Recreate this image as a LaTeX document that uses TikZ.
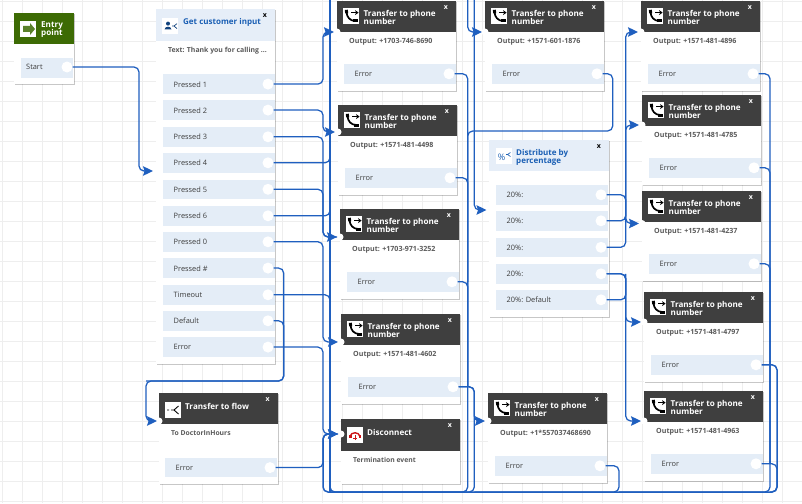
\documentclass[tikz,border=0pt]{standalone}
\usepackage{fontspec}
\setmainfont{Open Sans}
\usetikzlibrary{arrows.meta,shadows}
\definecolor{gridc}{HTML}{EEEEEE}
\definecolor{wirec}{HTML}{1F5FBF}
\definecolor{darkc}{HTML}{3F3F3F}
\definecolor{greenc}{HTML}{3D6B04}
\definecolor{rowc}{HTML}{E4EDF7}
\definecolor{headc}{HTML}{E6EEF8}
\definecolor{bluet}{HTML}{1A5FB4}
\definecolor{txtc}{HTML}{3C3C3C}
\definecolor{outc}{HTML}{5A5A5A}
\definecolor{redc}{HTML}{CC1418}
\tikzset{
  x=1pt,y=-1pt,
  box/.style={anchor=north west,inner sep=0pt,outer sep=0pt,minimum width=#1},
  softshadow/.style={drop shadow={shadow xshift=.6pt,shadow yshift=-1pt,opacity=.22,fill=black}},
  cardbody/.style={box=119pt,fill=white,softshadow},
  darkhead/.style={box=119pt,minimum height=31pt,fill=darkc},
  lighthead/.style={box=119pt,minimum height=32pt,fill=headc},
  rowbox/.style={box=#1,minimum height=19.6pt,fill=rowc},
  portc/.style={circle,fill=white,inner sep=0pt,minimum size=11pt},
  notchc/.style={circle,fill=white,inner sep=0pt,minimum size=7pt},
  iconsq/.style={box=16pt,minimum height=16pt,fill=white},
  titlet/.style={anchor=west,inner sep=0pt,align=left,text=white,font=\fontsize{8.1}{8.1}\selectfont\bfseries},
  bluetitle/.style={anchor=west,inner sep=0pt,align=left,text=bluet,font=\fontsize{8}{8.1}\selectfont\bfseries},
  closex/.style={inner sep=0pt,font=\fontsize{7}{7}\selectfont\bfseries},
  rowt/.style={anchor=west,inner sep=0pt,text=txtc,font=\fontsize{7.4}{8}\selectfont},
  outt/.style={anchor=west,inner sep=0pt,text=outc,font=\fontsize{7.1}{8}\selectfont\bfseries},
  wire/.style={draw=wirec,line width=1.25pt,rounded corners=5pt},
  tip/.style={-{Stealth[length=10pt,width=9.5pt,inset=1.5pt]}},
}
\newcommand\cardrow[4]{%
  \node[rowbox=111.5pt] (#1-row) at (#2,#3) {};
  \node[rowt] (#1-lab) at (#2+10.5,#3+10) {#4};
  \node[portc] (#1) at (#2+105,#3+9.8) {};
}
\newcommand\handset{%
  \draw[black,line width=1.7pt] (3.6,4) .. controls (3.6,9) and (7,13) .. (12.4,13);
  \draw[black,line width=3pt] (3.4,1.8) -- (3.6,5.4);
  \draw[black,line width=3pt] (10.4,13) -- (14.6,13);
}
% name, x, y, input y offset, number
\newcommand\phonecard[5]{%
  \begin{scope}[shift={(#2,#3)}]
    \node[cardbody,minimum height=90pt] (#1) at (0,0) {};
    \node[darkhead] (#1-head) at (0,0) {};
    \node[notchc] (#1-notch) at (0,#4) {};
    \coordinate (#1-in) at (-3,#4);
    \node[iconsq] (#1-icon) at (6,7) {};
    \begin{scope}[shift={(6,7)}]
      \handset
      \draw[black,line width=1.2pt,-{Stealth[length=3.6pt,width=5pt]}] (8.4,4.6) -- (15.6,4.6);
    \end{scope}
    \node[titlet] (#1-title) at (26.5,16.6) {Transfer to phone\\number};
    \node[closex,text=white] (#1-x) at (109,6.5) {x};
    \node[outt] (#1-text) at (12,40.5) {Output: #5};
    \cardrow{#1-out}{7}{63}{Error}
  \end{scope}
}
\begin{document}
\begin{tikzpicture}
\useasboundingbox (0,0) rectangle (802,503);
\fill[white] (0,0) rectangle (802,503);
% grid
\foreach \gx in {2,22,...,802} \draw[gridc,line width=.9pt] (\gx,0) -- (\gx,503);
\foreach \gy in {1,21,...,501} \draw[gridc,line width=.9pt] (0,\gy) -- (802,\gy);

% Entry point
\node[box=60pt,minimum height=71pt,fill=white,softshadow] (entry) at (14,13) {};
\node[box=60pt,minimum height=31.5pt,fill=greenc] (entry-head) at (14,13) {};
\node[iconsq] (entry-icon) at (20,21) {};
\fill[greenc!85!white] (23,26) -- (30,26) -- (30,23) -- (35,29) -- (30,35) -- (30,32) -- (23,32) -- cycle;
\node[titlet] (entry-title) at (41,30) {Entry\\point};
\node[box=52pt,minimum height=19.5pt,fill=rowc] (start-row) at (21,58) {};
\node[rowt] (start-lab) at (26,67) {Start};
\node[portc] (start-out) at (67,67) {};

% Get customer input
\node[cardbody,minimum height=355pt] (gci) at (156,9) {};
\node[lighthead] (gci-head) at (156,9) {};
\node[notchc] (gci-notch) at (156,171) {};
\coordinate (gci-in) at (153,171);
\node[iconsq] (gci-icon) at (162,18) {};
\fill[bluet!70!black] (168,23.6) circle (2);
\fill[bluet!70!black] (164.5,29.5) .. controls (164.8,25.8) and (171.2,25.8) .. (171.5,29.5) -- cycle;
\draw[bluet!70!black,line width=.7pt] (172,26) -- (174,26) -- (177,23.6) (174,26) -- (177,28.6);
\node[bluetitle] (gci-title) at (183,22) {Get customer input};
\node[closex,text=black] (gci-x) at (265,16) {x};
\node[outt,font=\fontsize{6.9}{8}\selectfont\bfseries] (gci-text) at (168,50.7) {Text: Thank you for calling ...};
\cardrow{g1}{163}{74.3}{Pressed 1}
\cardrow{g2}{163}{100.3}{Pressed 2}
\cardrow{g3}{163}{127}{Pressed 3}
\cardrow{g4}{163}{153}{Pressed 4}
\cardrow{g5}{163}{179.5}{Pressed 5}
\cardrow{g6}{163}{206}{Pressed 6}
\cardrow{g0}{163}{232}{Pressed 0}
\cardrow{gh}{163}{258.3}{Pressed \#}
\cardrow{gt}{163}{285}{Timeout}
\cardrow{gd}{163}{311}{Default}
\cardrow{ge}{163}{337.3}{Error}

% Transfer to flow
\begin{scope}[shift={(159,393)}]
  \node[cardbody,minimum height=91pt] (flow) at (0,0) {};
  \node[darkhead] (flow-head) at (0,0) {};
  \node[notchc] (flow-notch) at (0,28) {};
  \coordinate (flow-in) at (-2,28);
  \node[iconsq] (flow-icon) at (6,9) {};
  \draw[black,line width=.9pt] (8,17) -- (10,17) (12,17) -- (15,17) -- (19.5,13) (15,17) -- (19.5,21);
  \node[titlet] (flow-title) at (26,13.5) {Transfer to flow};
  \node[closex,text=white] (flow-x) at (108.7,7) {x};
  \node[outt,font=\fontsize{6.8}{8}\selectfont\bfseries] (flow-text) at (12,40.5) {To DoctorInHours};
  \cardrow{flow-out}{6}{64.8}{Error}
\end{scope}

% Disconnect
\begin{scope}[shift={(341,419)}]
  \node[cardbody,minimum height=65pt] (disc) at (0,0) {};
  \node[darkhead,minimum height=32pt] (disc-head) at (0,0) {};
  \node[notchc] (disc-notch) at (0,15) {};
  \coordinate (disc-in) at (-3,15);
  \node[iconsq] (disc-icon) at (6,8) {};
  \draw[redc,line width=1.4pt] (9,17.5) .. controls (10,12.5) and (18,12.5) .. (19,17.5);
  \draw[redc,line width=2.4pt] (8,17.5) -- (10.5,17.5) (17.5,17.5) -- (20,17.5);
  \draw[redc,line width=1pt] (14,16) -- (14,21) (12,19) -- (16,19);
  \node[titlet] (disc-title) at (26,13) {Disconnect};
  \node[closex,text=white] (disc-x) at (109,7) {x};
  \node[outt,font=\fontsize{6.8}{8}\selectfont\bfseries] (disc-text) at (12,41) {Termination event};
\end{scope}

% Transfer to phone cards
\phonecard{pa}{337}{1}{31}{+1703-746-8690}
\phonecard{pb}{338}{105}{27}{+1571-481-4498}
\phonecard{pc}{340}{209}{28}{+1703-971-3252}
\phonecard{pd}{341}{314}{28}{+1571-481-4602}
\phonecard{pe}{485}{1}{31}{+1571-601-1876}
\phonecard{pf}{488}{393}{28}{+1*557037468690}
\phonecard{ra}{641}{1}{31}{+1571-481-4896}
\phonecard{rb}{642}{95}{30}{+1571-481-4785}
\phonecard{rc}{642}{191}{32.5}{+1571-481-4237}
\phonecard{rd}{644}{292}{30}{+1571-481-4797}
\phonecard{re}{644}{391}{30}{+1571-481-4963}

% Distribute by percentage
\node[cardbody,minimum width=120pt,minimum height=177pt] (dist) at (489,140) {};
\node[lighthead,minimum width=120pt,minimum height=31pt] (dist-head) at (489,140) {};
\node[notchc] (dist-notch) at (489,210) {};
\coordinate (dist-in) at (486.5,210);
\node[iconsq] (dist-icon) at (496,148) {};
\node[inner sep=0pt,text=bluet,font=\fontsize{9}{9}\selectfont] (dist-pct) at (501.5,157) {\%};
\draw[bluet,line width=.6pt] (506,154.5) -- (507.5,154.5) -- (510.5,152.5) (507.5,154.5) -- (510.5,156.5);
\node[bluetitle] (dist-title) at (516,157) {Distribute by\\percentage};
\node[closex,text=black] (dist-x) at (599,147) {x};
\cardrow{da}{496}{185}{20\%:}
\cardrow{db}{496}{211}{20\%:}
\cardrow{dc}{496}{237.5}{20\%:}
\cardrow{dd}{496}{264}{20\%:}
\cardrow{de}{496}{290}{20\%: Default}

% routing rails
\coordinate (xA) at (323,0); \coordinate (xB) at (330,0);
\coordinate (xC) at (467.7,0); \coordinate (xD) at (474.3,0);
\coordinate (xE) at (612.7,0); \coordinate (xF) at (619,0);
\coordinate (xG) at (625.7,0); \coordinate (xH) at (770,0);
\coordinate (xI) at (777,0); \coordinate (xJ) at (283.7,0);
\coordinate (xK) at (146,0); \coordinate (xL) at (139,0);
\coordinate (yB) at (0,492); \coordinate (yC) at (0,381);
\coordinate (yD) at (0,131);

% left side
\draw[wire,tip] (start-out.east) -| (xL |- gci-in) -- (gci-in);
\draw[wire,tip] (g1.east) -| (xA |- pa-in) -- (pa-in);
\draw[wire,tip] (g2.east) -| (xA |- pb-in) -- (pb-in);
\draw[wire,tip] (g3.east) -| (xA |- pc-in) -- (pc-in);
\draw[wire] (g5.east) -| (xA |- pc-in) -- (pc-in);
\draw[wire,tip] (g0.east) -| (xA |- pd-in) -- (pd-in);
\draw[wire] (g4.east) -| (xB |- g1);
\draw[wire] (g6.east) -| (xB |- g1);
\draw[wire] (gt.east) -| (xB |- yB) -- (xC |- yB);
\draw[wire,line width=1.5pt] (xB) -- (xB |- yB);
\draw[wire,tip] (gh.east) -| (xJ |- yC) -| (xK |- flow-in) -- (flow-in);
\draw[wire] (gd.east) -| (xJ |- yC) -- (xK |- yC);
\draw[wire,tip] (ge.east) -| (xA |- disc-in) -- (disc-in);
\draw[wire] (flow-out.east) -| (xA |- disc-in) -- (disc-in);

% common return into Disconnect
\draw[wire,line width=1.5pt,tip] (rd-out.east) -| (xI |- yB) -- (xA |- yB) -- (xA |- disc-in) -- (disc-in);
\draw[wire] (re-out.east) -| (xI |- yB) -- (xH |- yB);
\draw[wire] (ra-out.east) -| (xH |- yB) -- (xF |- yB);
\draw[wire] (rb-out.east) -| (xH |- re-out);
\draw[wire] (rc-out.east) -| (xH |- re-out);

% middle column
\draw[wire] (pa-out.east) -| (xC |- yB) -- (xB |- yB);
\draw[wire] (pb-out.east) -| (xC |- pd-out);
\draw[wire] (pc-out.east) -| (xC |- pd-out);
\draw[wire] (pd-out.east) -| (xD |- yB) -- (xC |- yB);
\draw[wire,tip] (pd-out.east) -| (xD |- pf-in) -- (pf-in);
\draw[wire] (pe-out.east) -| (xE |- yD) -| (xC |- pc-out);
\draw[wire,tip] (xC) -- (xC |- pe-in) -- (pe-in);
\draw[wire,tip] (xD) -- (xD |- dist-in) -- (dist-in);
\draw[wire] (pf-out.east) -| (xF |- yB) -- (xD |- yB);

% Distribute by percentage outputs
\draw[wire,tip] (da.east) -| (xG |- rc-in) -- (rc-in);
\draw[wire,tip] (db.east) -| (xG |- ra-in) -- (ra-in);
\draw[wire,tip] (dc.east) -| (xG |- rb-in) -- (rb-in);
\draw[wire,tip] (dd.east) -| (xG |- rd-in) -- (rd-in);
\draw[wire,tip] (dd.east) -| (xG |- re-in) -- (re-in);
\draw[wire] (de.east) -| (xG |- dd);
\end{tikzpicture}
\end{document}
